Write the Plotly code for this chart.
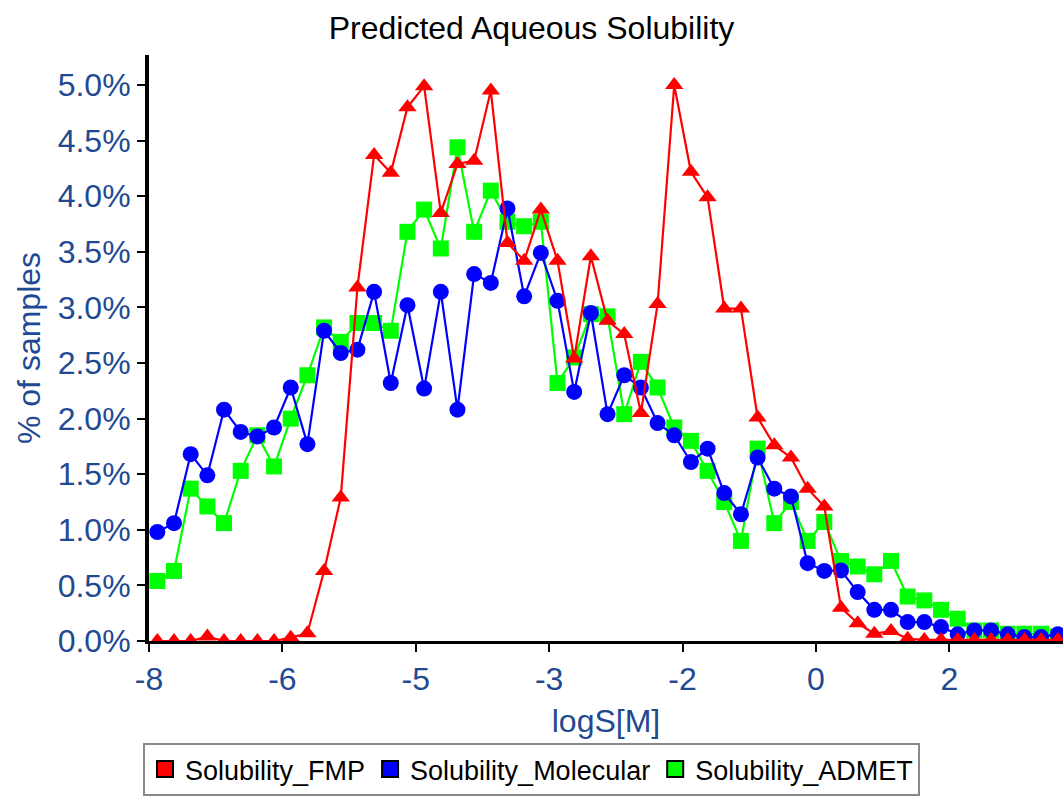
import plotly.graph_objects as go

# Bin centres of logS[M]
bin_centers = [-7.9, -7.7, -7.5, -7.3, -7.1, -6.9, -6.7, -6.5, -6.3, -6.1,
               -5.9, -5.7, -5.5, -5.3, -5.1, -4.9, -4.7, -4.5, -4.3, -4.1,
               -3.9, -3.7, -3.5, -3.3, -3.1, -2.9, -2.7, -2.5, -2.3, -2.1,
               -1.9, -1.7, -1.5, -1.3, -1.1, -0.9, -0.7, -0.5, -0.3, -0.1,
               0.1, 0.3, 0.5, 0.7, 0.9, 1.1, 1.3, 1.5, 1.7, 1.9,
               2.1, 2.3, 2.5, 2.7, 2.9]

# % of samples per bin
solubility_fmp = [0.0, 0.0, 0.0, 0.04, 0.0, 0.0, 0.0, 0.0, 0.03, 0.07,
                  0.63, 1.29, 3.18, 4.37, 4.21, 4.80, 4.99, 3.85, 4.29, 4.32,
                  4.95, 3.58, 3.42, 3.88, 3.42, 2.54, 3.46, 2.88, 2.76, 2.05,
                  3.03, 5.00, 4.22, 3.99, 2.99, 2.99, 2.01, 1.76, 1.65, 1.37,
                  1.21, 0.30, 0.16, 0.065, 0.09, 0.02, 0.01, 0.01, 0.01, 0.01,
                  0.01, 0.01, 0.01, 0.01, 0.01]

solubility_molecular = [0.98, 1.06, 1.68, 1.49, 2.08, 1.88, 1.84, 1.92, 2.28, 1.77,
                        2.79, 2.59, 2.62, 3.14, 2.32, 3.02, 2.27, 3.14, 2.08, 3.30,
                        3.22, 3.89, 3.10, 3.49, 3.06, 2.24, 2.95, 2.04, 2.39, 2.28,
                        1.96, 1.85, 1.61, 1.73, 1.33, 1.14, 1.65, 1.37, 1.30, 0.70,
                        0.63, 0.635, 0.44, 0.28, 0.28, 0.17, 0.17, 0.125, 0.06, 0.095,
                        0.095, 0.06, 0.035, 0.035, 0.06]

solubility_admet = [0.54, 0.63, 1.37, 1.21, 1.06, 1.53, 1.85, 1.57, 2.00, 2.39,
                    2.82, 2.69, 2.86, 2.86, 2.79, 3.68, 3.88, 3.53, 4.44, 3.68,
                    4.05, 3.77, 3.73, 3.77, 2.32, 2.55, 2.94, 2.92, 2.04, 2.51,
                    2.28, 1.92, 1.80, 1.53, 1.25, 0.90, 1.73, 1.06, 1.25, 0.90,
                    1.07, 0.72, 0.67, 0.60, 0.72, 0.40, 0.365, 0.28, 0.20, 0.095,
                    0.095, 0.065, 0.065, 0.065, 0.04]

series_names = ["Solubility_FMP", "Solubility_Molecular", "Solubility_ADMET"]

x_tick_vals = [-8, -6.4, -4.8, -3.2, -1.6, 0, 1.6]
x_tick_text = ["-8", "-6", "-5", "-3", "-2", "0", "2"]
y_tick_vals = [0.0, 0.5, 1.0, 1.5, 2.0, 2.5, 3.0, 3.5, 4.0, 4.5, 5.0]
y_tick_text = ["0.0%", "0.5%", "1.0%", "1.5%", "2.0%", "2.5%", "3.0%",
               "3.5%", "4.0%", "4.5%", "5.0%"]

FONT = "Liberation Sans, Arial, sans-serif"
AXIS_BLUE = "#1F4A92"
RED, BLUE, GREEN = "#FF0000", "#0000FF", "#00FF00"

fig = go.Figure()

# drawing order: ADMET (bottom), Molecular, FMP (top)
fig.add_trace(go.Scatter(x=bin_centers, y=solubility_admet, mode="lines+markers",
                         name=series_names[2], showlegend=False,
                         line=dict(color=GREEN, width=2.2),
                         marker=dict(symbol="square", size=16, color=GREEN)))
fig.add_trace(go.Scatter(x=bin_centers, y=solubility_molecular, mode="lines+markers",
                         name=series_names[1], showlegend=False,
                         line=dict(color=BLUE, width=2.2),
                         marker=dict(symbol="circle", size=16, color=BLUE)))
fig.add_trace(go.Scatter(x=bin_centers, y=solubility_fmp, mode="lines+markers",
                         name=series_names[0], showlegend=False,
                         line=dict(color=RED, width=2.2),
                         marker=dict(symbol="triangle-up", size=16, color=RED)))

# legend swatches (square boxes with black outline)
for nm, col in zip(series_names, [RED, BLUE, GREEN]):
    fig.add_trace(go.Scatter(x=[None], y=[None], mode="markers", name=nm,
                             marker=dict(symbol="square", size=16, color=col,
                                         line=dict(color="black", width=2))))

fig.update_layout(
    width=1063, height=796,
    margin=dict(l=149, r=0, t=55, b=155),
    paper_bgcolor="white", plot_bgcolor="white",
    font=dict(family=FONT, size=32, color=AXIS_BLUE),
    title=dict(text="Predicted Aqueous Solubility", x=0.5, xref="container",
               xanchor="center", y=1 - 28 / 796, yref="container", yanchor="middle",
               font=dict(family=FONT, size=32, color="black")),
    legend=dict(orientation="h", xref="container", yref="container",
                x=143 / 1063, xanchor="left", y=(796 - 743) / 796, yanchor="top",
                bordercolor="#888888", borderwidth=2, bgcolor="white",
                font=dict(family=FONT, size=27, color="black"),
                itemsizing="trace"),
    showlegend=True,
)

fig.update_xaxes(range=[-8, 2.963], tickmode="array", tickvals=x_tick_vals,
                 ticktext=x_tick_text, ticks="outside", ticklen=8, tickwidth=2,
                 tickcolor="black", showline=True, linecolor="black", linewidth=3,
                 showgrid=False, zeroline=False,
                 tickfont=dict(family=FONT, size=32, color=AXIS_BLUE),
                 title=dict(text="logS[M]", standoff=14,
                            font=dict(family=FONT, size=32, color=AXIS_BLUE)))
fig.update_yaxes(range=[0, 5.27], tickmode="array", tickvals=y_tick_vals,
                 ticktext=y_tick_text, ticks="outside", ticklen=8, tickwidth=2,
                 tickcolor="black", showline=True, linecolor="black", linewidth=4,
                 showgrid=False, zeroline=False,
                 tickfont=dict(family=FONT, size=32, color=AXIS_BLUE),
                 title=dict(text="% of samples", standoff=8,
                            font=dict(family=FONT, size=32, color=AXIS_BLUE)))

fig.write_html("out.html", config={"displayModeBar": False},
               post_script="document.body.style.margin='0';")
